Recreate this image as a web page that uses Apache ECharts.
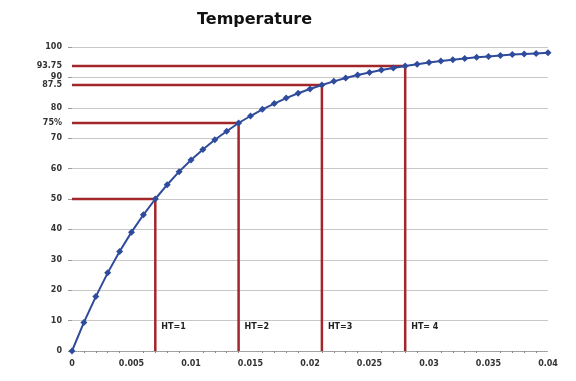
<!DOCTYPE html>
<html>
<head>
<meta charset="utf-8">
<script src="https://cdn.jsdelivr.net/npm/echarts@6/dist/echarts.min.js"></script>
<style>
html, body { margin: 0; padding: 0; background: #fff; }
#main { width: 576px; height: 381px; }
</style>
</head>
<body>
<div id="main"></div>
<script>
// curve (x step 0.001)
var xs = [0, 0.001, 0.002, 0.003, 0.004, 0.005, 0.006, 0.007, 0.008, 0.009,
	0.010, 0.011, 0.012, 0.013, 0.014, 0.015, 0.016, 0.017, 0.018, 0.019,
	0.020, 0.021, 0.022, 0.023, 0.024, 0.025, 0.026, 0.027, 0.028, 0.029,
	0.030, 0.031, 0.032, 0.033, 0.034, 0.035, 0.036, 0.037, 0.038, 0.039, 0.040];
var temps = [0, 9.4, 17.9, 25.7, 32.7, 39.1, 44.8, 50, 54.7, 59,
	62.8, 66.3, 69.5, 72.3, 75, 77.3, 79.5, 81.4, 83.2, 84.8,
	86.2, 87.5, 88.7, 89.8, 90.8, 91.6, 92.4, 93.1, 93.75, 94.3,
	94.9, 95.4, 95.8, 96.2, 96.6, 96.9, 97.2, 97.5, 97.7, 97.9, 98.1];

// half-time markers
var htX = [0.007, 0.014, 0.021, 0.028];
var htY = [50, 75, 87.5, 93.75];
var htNames = ['HT=1', 'HT=2', 'HT=3', 'HT= 4'];
var extraYLabels = [75, 87.5, 93.75];

var chart = echarts.init(document.getElementById('main'));

var series = [];
for (var i = 0; i < htX.length; i++) {
	series.push({
		type: 'line',
		yAxisIndex: 0,
		symbol: 'none',
		silent: true,
		lineStyle: { color: '#a3262a', width: 2.5 },
		data: [[0, htY[i]], [htX[i], htY[i]], [htX[i], 0]],
		endLabel: {
			show: true,
			formatter: htNames[i],
			offset: [-2, -24],
			color: '#222',
			fontSize: 8,
			fontWeight: 'bold',
			fontFamily: 'DejaVu Sans'
		},
		z: 2
	});
}
series.push({
	type: 'line',
	yAxisIndex: 0,
	data: xs.map(function(x, k) { return [x, temps[k]]; }),
	symbol: 'diamond',
	symbolSize: 7,
	itemStyle: { color: '#2f4b9c' },
	lineStyle: { color: '#2f4b9c', width: 2 },
	z: 3
});

var labelFont = { color: '#333', fontSize: 8, fontWeight: 'bold', fontFamily: 'DejaVu Sans' };

chart.setOption({
	animation: false,
	title: {
		text: 'Temperature',
		left: 192,
		top: 7,
		textStyle: { fontSize: 16, fontWeight: 'bold', color: '#111', fontFamily: 'DejaVu Sans' }
	},
	grid: { left: 72, right: 28, top: 47, bottom: 30 },
	xAxis: {
		type: 'value',
		min: 0,
		max: 0.04,
		interval: 0.005,
		splitLine: { show: false },
		axisLine: { lineStyle: { color: '#999', type: 'dotted' } },
		axisTick: { show: false },
		minorTick: { show: true, splitNumber: 5, length: 2, lineStyle: { color: '#888' } },
		axisLabel: Object.assign({ margin: 9 }, labelFont)
	},
	yAxis: [{
		type: 'value',
		min: 0,
		max: 100,
		interval: 10,
		axisLine: { show: false },
		axisTick: { show: true, length: 4, lineStyle: { color: '#999' } },
		splitLine: { lineStyle: { color: '#c8c8c8', width: 1 } },
		axisLabel: Object.assign({ margin: 10 }, labelFont)
	}, {
		type: 'value',
		min: 0,
		max: 100,
		position: 'left',
		axisLine: { show: false },
		axisTick: { show: false },
		splitLine: { show: false },
		axisLabel: Object.assign({
			margin: 10,
			customValues: extraYLabels,
			formatter: function(v) { return v === 75 ? '75%' : String(v); }
		}, labelFont)
	}],
	series: series
});
</script>
</body>
</html>
